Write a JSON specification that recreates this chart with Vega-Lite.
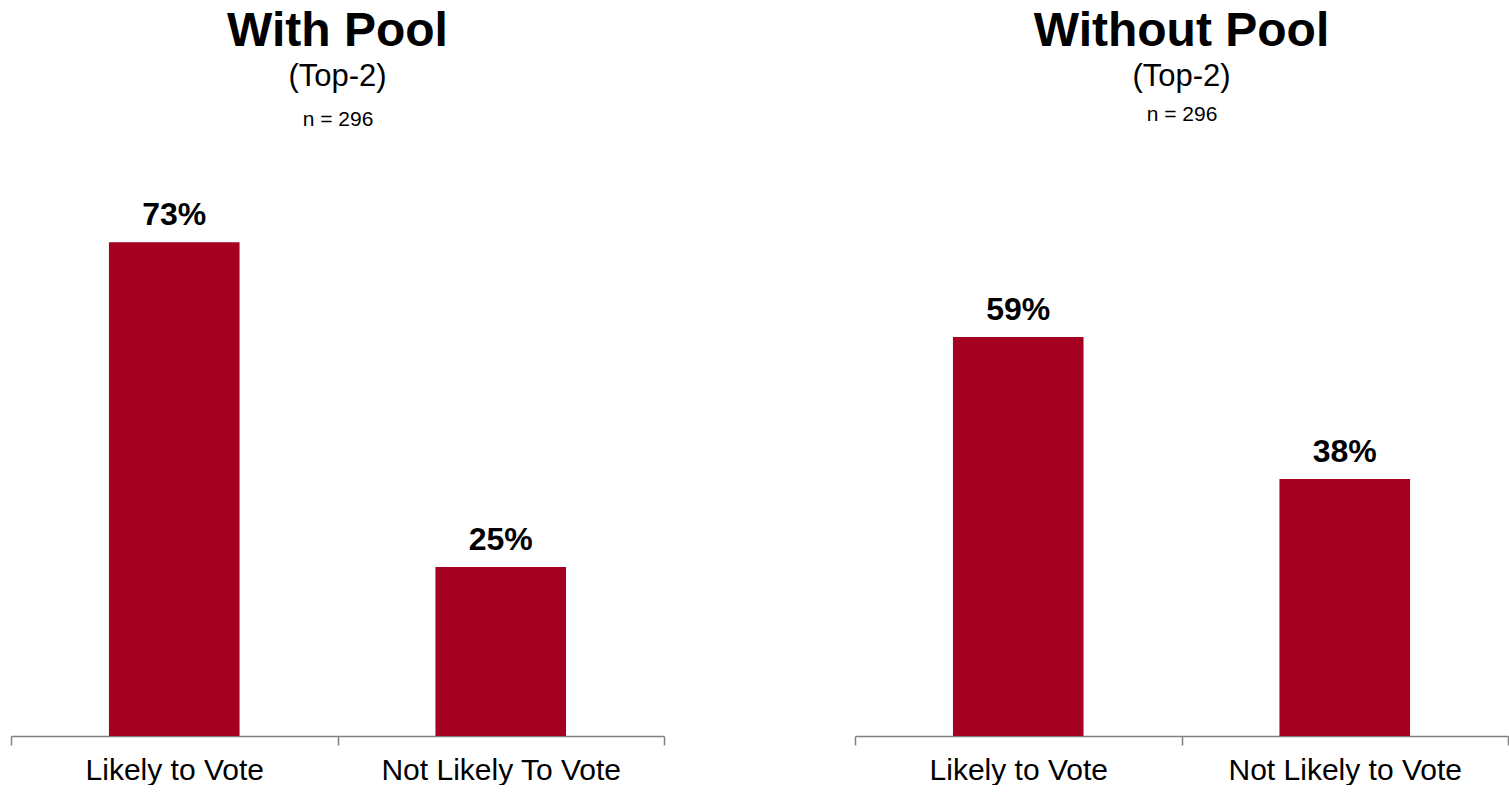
{
  "$schema": "https://vega.github.io/schema/vega-lite/v6.json",
  "padding": {"left": 10, "top": 8, "right": 0, "bottom": 0},
  "background": "white",
  "config": {
    "font": "Liberation Sans",
    "view": {"stroke": null},
    "concat": {"spacing": 189},
    "title": {"fontSize": 48, "fontWeight": "bold", "color": "black", "subtitleFontSize": 31, "subtitleColor": "black", "subtitlePadding": 6, "anchor": "middle"}
  },
  "datasets": {
    "pool": [
      {"panel": "With Pool", "category": "Likely to Vote", "pct": 0.73},
      {"panel": "With Pool", "category": "Not Likely To Vote", "pct": 0.25},
      {"panel": "Without Pool", "category": "Likely to Vote", "pct": 0.59},
      {"panel": "Without Pool", "category": "Not Likely to Vote", "pct": 0.38}
    ]
  },
  "hconcat": [
    {
      "title": {"text": "With Pool", "subtitle": "(Top-2)", "offset": 16},
      "width": 653,
      "height": 541,
      "data": {"name": "pool"},
      "transform": [{"filter": "datum.panel === 'With Pool'"}],
      "encoding": {
        "y": {"field": "pct", "type": "quantitative", "scale": {"domain": [0, 0.8]}, "axis": null}
      },
      "layer": [
        {
          "mark": {"type": "bar", "color": "#A50021", "width": {"band": 0.4}},
          "encoding": {
            "x": {"field": "category", "type": "nominal", "sort": null, "scale": {"paddingInner": 0, "paddingOuter": 0},
              "axis": {"orient": "bottom", "title": null, "domain": true, "ticks": true, "domainColor": "#808080", "domainWidth": 1.5, "tickColor": "#808080", "tickWidth": 1.5, "tickSize": 9, "tickBand": "extent", "labelFontSize": 30, "labelColor": "black", "labelAngle": 0, "labelPadding": 10, "labelLimit": 0, "grid": false}}
          }
        },
        {
          "mark": {"type": "text", "baseline": "bottom", "dy": -10, "fontSize": 32, "fontWeight": "bold", "color": "black"},
          "encoding": {
            "text": {"field": "pct", "type": "quantitative", "format": ".0%"},
            "x": {"field": "category", "type": "nominal", "sort": null, "axis": {"orient": "top", "labels": false, "ticks": false, "domain": false, "grid": false, "title": "n = 296", "titleFontSize": 21, "titleFontWeight": "normal", "titleColor": "black", "titlePadding": 66}}
          }
        }
      ],
      "resolve": {"axis": {"x": "independent"}}
    },
    {
      "title": {"text": "Without Pool", "subtitle": "(Top-2)", "offset": 11},
      "width": 653,
      "height": 541,
      "data": {"name": "pool"},
      "transform": [{"filter": "datum.panel === 'Without Pool'"}],
      "encoding": {
        "y": {"field": "pct", "type": "quantitative", "scale": {"domain": [0, 0.8]}, "axis": null}
      },
      "layer": [
        {
          "mark": {"type": "bar", "color": "#A50021", "width": {"band": 0.4}},
          "encoding": {
            "x": {"field": "category", "type": "nominal", "sort": null, "scale": {"paddingInner": 0, "paddingOuter": 0},
              "axis": {"orient": "bottom", "title": null, "domain": true, "ticks": true, "domainColor": "#808080", "domainWidth": 1.5, "tickColor": "#808080", "tickWidth": 1.5, "tickSize": 9, "tickBand": "extent", "labelFontSize": 30, "labelColor": "black", "labelAngle": 0, "labelPadding": 10, "labelLimit": 0, "grid": false}}
          }
        },
        {
          "mark": {"type": "text", "baseline": "bottom", "dy": -10, "fontSize": 32, "fontWeight": "bold", "color": "black"},
          "encoding": {
            "text": {"field": "pct", "type": "quantitative", "format": ".0%"},
            "x": {"field": "category", "type": "nominal", "sort": null, "axis": {"orient": "top", "labels": false, "ticks": false, "domain": false, "grid": false, "title": "n = 296", "titleFontSize": 21, "titleFontWeight": "normal", "titleColor": "black", "titlePadding": 71}}
          }
        }
      ],
      "resolve": {"axis": {"x": "independent"}}
    }
  ]
}
